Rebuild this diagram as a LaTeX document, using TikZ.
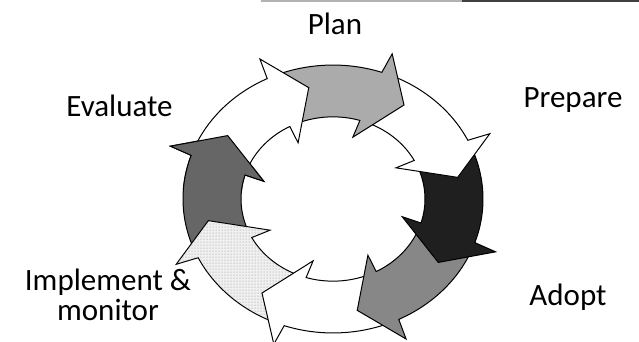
\documentclass[tikz,border=0pt]{standalone}
\usepackage{fontspec}
\setmainfont{Carlito}
\usetikzlibrary{patterns}
\newcommand{\ringarrow}[2]{%
  \pgfmathsetmacro\rAtail{#1+57}%
  \pgfmathsetmacro\rAbo{#1+15}%
  \pgfmathsetmacro\rAbarbo{#1+14}%
  \pgfmathsetmacro\rAbarbi{#1+18}%
  \pgfmathsetmacro\rAbi{#1+17}%
  \path[#2] (\rAtail:150pt) arc[start angle=\rAtail, end angle=\rAbo, radius=150pt]
    -- (\rAbarbo:173pt) -- (#1:127pt) -- (\rAbarbi:72pt) -- (\rAbi:92pt)
    arc[start angle=\rAbi, end angle=\rAtail, radius=92pt] -- cycle;
}
\tikzset{
  arr/.style={draw=black, line width=1pt, line join=miter},
  whitearr/.style={arr, fill=white},
  planarr/.style={arr, fill=black!33},
  preparr/.style={arr, fill=black!88},
  adoptarr/.style={arr, fill=black!47},
  implarr/.style={arr, fill=black!6, postaction={pattern=dots, pattern color=black!45}},
  evalarr/.style={arr, fill=black!60},
  lbl/.style={font=\fontsize{31}{30}\selectfont, anchor=base, inner sep=0pt, align=center}
}
\begin{document}
\begin{tikzpicture}[x=1pt,y=1pt]
\useasboundingbox (0,0) rectangle (639,341);
\fill[white] (0,0) rectangle (639,341);
\draw[black!30, line width=1.5pt] (261,340.2) -- (462,340.2);
\draw[black!75, line width=1.5pt] (462,340.2) -- (639,340.2);
\begin{scope}[shift={(333pt,142pt)}, yscale=0.893]
  \ringarrow{146}{evalarr}
  \ringarrow{-169}{implarr}
  \ringarrow{-124}{whitearr}
  \ringarrow{-79}{adoptarr}
  \ringarrow{-34}{preparr}
  \ringarrow{11}{whitearr}
  \ringarrow{56}{planarr}
  \ringarrow{101}{whitearr}
  \begin{scope}
    \clip (0pt,0pt) -- (136:260pt) -- (176:260pt) -- cycle;
    \ringarrow{146}{evalarr}
  \end{scope}
\end{scope}
\node[lbl] (plan) at (335,306) {Plan};
\node[lbl] (prepare) at (573,234) {Prepare};
\node[lbl] (evaluate) at (119.5,225) {Evaluate};
\node[lbl] (adopt) at (568,36) {Adopt};
\node[lbl] (impl) at (108,51) {Implement \&};
\node[lbl] (mon) at (108,21) {monitor};
\end{tikzpicture}
\end{document}
